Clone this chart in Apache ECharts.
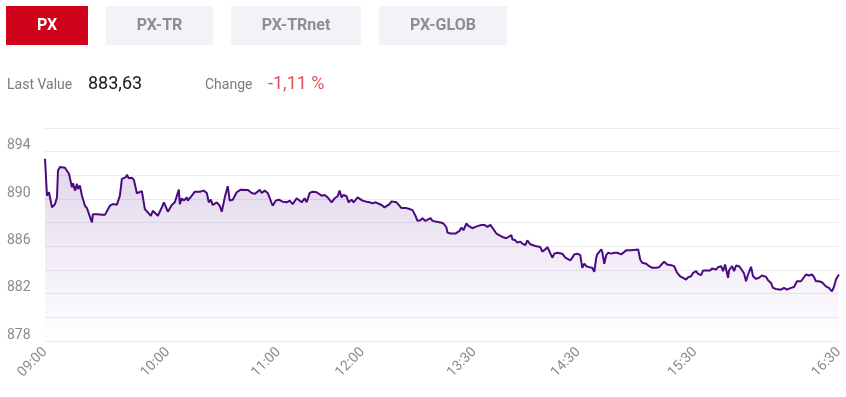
<!DOCTYPE html>
<html>
<head>
<meta charset="utf-8">
<script src="https://cdn.jsdelivr.net/npm/echarts@6/dist/echarts.min.js"></script>
<style>
html,body{margin:0;padding:0;background:#fff;}
#chart{width:846px;height:397px;}
</style>
</head>
<body>
<div id="chart"></div>
<script>
// Tabs and header
const tabs = ['PX', 'PX-TR', 'PX-TRnet', 'PX-GLOB'];
const lastValue = '883,63';
const changeText = '-1,11 %';

// X axis: sample number of the intraday series, and the time labels shown
const timeTicks = [0, 123, 234, 318, 430, 534, 651, 795];
const timeLabels = ['09:00', '10:00', '11:00', '12:00', '13:30', '14:30', '15:30', '16:30'];

// Y axis
const yMin = 878, yMax = 896, yStep = 2;
const yLabels = [878, 882, 886, 890, 894];

// Intraday PX index [sample number, value]
const pxMorning = [
  [0,893.40],[2,890.28],[4,890.57],[6,890.49],[7,889.29],[10,889.57],[12,890.14],[13,892.41],[15,892.70],[17,892.83],
  [20,892.64],[22,892.61],[24,892.13],[27,891.00],[28,891.34],[30,890.71],[32,891.28],[33,890.85],[35,891.13],[37,890.28],
  [40,889.43],[42,889.23],[44,889.23],[47,888.02],[48,888.72],[50,888.64],[53,888.72],[57,888.66],[60,888.66],[62,888.81],
  [65,889.43],[68,889.57],[72,889.52],[75,890.28],[77,891.70],[79,891.85],[81,891.85],[82,892.04],[84,891.76],[87,891.79],
  [89,891.62],[92,890.49],[94,890.57],[97,890.66],[100,889.15],[103,888.87],[106,888.58],[108,889.00],
  [110,889.00],[113,888.58],[117,889.29],[119,889.72],[122,889.15],[123,888.92],[127,889.49],[130,889.72],[132,889.66],[134,890.79],
  [135,889.57],[137,890.06],[139,889.86],[142,890.14],[143,889.86],[147,890.28],[150,890.62],[155,890.62],[159,890.71],[162,890.51],
  [164,889.72],[166,889.94],[168,889.49],[172,889.72],[175,889.43],[177,888.92],[180,890.14],[183,891.08],[185,889.86],[188,889.94],
  [192,890.57],[196,890.79],[203,890.77],[207,890.51],[210,890.43],[213,890.62],[215,890.79],[217,890.51],[220,890.71],[223,890.51],
  [225,890.43]
];
const pxMidday = [
  [228,889.43],[231,889.86],[234,889.94],[238,889.77],[242,889.72],[245,889.86],[248,889.57],[252,890.06],[254,889.94],[257,889.72],
  [260,890.06],[262,889.72],[265,890.51],[268,890.62],[272,890.57],[274,890.62],[277,890.28],[280,890.34],[283,890.14],[287,889.72],
  [290,890.06],[293,890.23],[295,890.71],[297,890.14],[299,890.34],[302,890.23],[304,889.72],[307,889.94],[309,889.72],[313,890.14],
  [318,889.86],[322,889.77],[325,889.72],[328,889.63],[331,889.72],[333,889.57],[337,889.49],[340,889.29],
  [345,889.57],[347,889.80],[352,889.72],[354,889.63],[357,889.23],[362,889.23],[365,889.15],[368,889.06],[371,888.58],[373,888.15],
  [376,888.21],[378,888.38],[381,888.15],[383,888.30],[386,888.38],[388,888.15],[391,888.10],[393,888.02],[396,888.02],[399,887.93],
  [402,887.59],[403,887.17],[406,887.08],[408,886.96],[411,887.08],[413,886.96],[415,887.30],[417,887.59],[419,887.36],[422,887.93],
  [424,887.73],[426,887.64],[428,887.53],[431,887.64],[433,887.59],[437,887.81],[440,887.81],[443,887.64],[446,887.81],[448,887.73],
  [452,887.08],[454,886.96]
];
const pxAfternoon = [
  [458,886.79],[462,886.68],[464,886.60],[467,886.96],[468,886.60],[471,886.51],[473,886.32],[476,886.40],[478,886.23],[481,886.11],
  [483,886.51],[486,886.17],[488,886.11],[491,886.03],[493,886.03],[496,885.94],[498,885.55],[501,885.74],[503,885.94],[505,885.60],
  [508,885.04],[510,885.38],[513,885.46],[518,885.38],[521,885.04],[523,885.04],[526,884.81],[528,885.04],[530,885.32],[533,885.38],
  [536,885.26],[538,884.19],[540,884.53],[542,884.32],[545,884.24],[548,884.19],[550,883.85],[552,885.04],[553,885.32],[557,885.74],
  [558,885.55],[560,884.53],[562,885.26],[564,885.46],[567,885.38],[570,885.46],
  [573,885.46],[577,885.32],[579,885.38],[582,885.66],[584,885.74],[587,885.66],[589,885.74],[594,885.74],[596,884.89],[598,884.61],
  [602,884.53],[605,884.32],[608,884.19],[612,884.19],[615,884.24],[618,884.53],[620,884.70],[623,884.47],[627,884.41],[630,884.32],
  [633,883.76],[636,883.47],[639,883.34],[642,883.19],[644,883.39],[647,883.47],[649,883.76],[652,883.90],[654,883.68],[657,883.56],
  [659,883.96],[663,883.96],[666,883.96],[668,884.13],[672,884.04],[674,884.24],[676,884.13],[677,884.32],[679,883.90],[681,884.47],
  [683,884.53],[684,883.34]
];
const pxClose = [
  [685,883.98],[688,884.32],[690,883.90],[692,884.38],[695,884.32],[698,883.98],[700,883.70],[702,883.05],[704,883.62],[707,884.27],
  [709,883.47],[712,883.25],[715,883.34],[718,883.53],[722,883.42],[724,883.13],[727,882.91],[729,882.49],[732,882.40],[734,882.49],
  [737,882.34],[740,882.49],[743,882.34],[747,882.49],[750,882.57],[753,883.05],[757,883.05],[759,883.19],[762,883.62],[765,883.53],
  [768,883.62],[770,883.42],[772,883.05],[775,883.05],[778,882.96],[780,883.05],[782,882.62],[785,882.49],[788,882.20],[790,882.57],
  [792,883.19],[795,883.63]
];
const pxData = pxMorning.concat(pxMidday, pxAfternoon, pxClose);

const FONT = 'Roboto, "Noto Sans", sans-serif';
const chart = echarts.init(document.getElementById('chart'), null, {renderer: 'canvas'});

// Header graphics (tabs, last value, change)
const tabBoxes = [[6, 82], [106, 107], [231, 130], [379, 128]];
const graphics = [];
tabs.forEach((t, i) => {
  const active = i === 0;
  graphics.push({
    type: 'rect', left: tabBoxes[i][0], top: 6,
    shape: {width: tabBoxes[i][1], height: 39},
    style: {fill: active ? '#d0021b' : '#f3f3f7'}
  });
  graphics.push({
    type: 'text', x: tabBoxes[i][0] + tabBoxes[i][1] / 2, y: 26,
    style: {text: t, fill: active ? '#ffffff' : '#8a8e98', font: 'bold 16px ' + FONT, align: 'center', verticalAlign: 'middle'}
  });
});
graphics.push({type: 'text', x: 7, y: 85, style: {text: 'Last Value', fill: '#777a80', font: '14px ' + FONT, verticalAlign: 'middle'}});
graphics.push({type: 'text', x: 88, y: 84, style: {text: lastValue, fill: '#1a1a1a', font: '18px ' + FONT, verticalAlign: 'middle'}});
graphics.push({type: 'text', x: 205, y: 85, style: {text: 'Change', fill: '#777a80', font: '14px ' + FONT, verticalAlign: 'middle'}});
graphics.push({type: 'text', x: 268, y: 84, style: {text: changeText, fill: '#e0505c', font: '18px ' + FONT, verticalAlign: 'middle'}});

chart.setOption({
  animation: false,
  textStyle: {fontFamily: FONT},
  graphic: graphics,
  grid: {left: 45, right: 6, top: 128, bottom: 56, containLabel: false},
  xAxis: {
    type: 'value', min: 0, max: 795,
    axisLine: {show: false}, axisTick: {show: false}, splitLine: {show: false},
    axisLabel: {
      customValues: timeTicks,
      formatter: v => timeLabels[timeTicks.indexOf(v)] || '',
      rotate: 45, color: '#8a8a8e', fontSize: 14, margin: 9,
      showMinLabel: true, showMaxLabel: true, hideOverlap: false
    }
  },
  yAxis: {
    type: 'value', min: yMin, max: yMax, interval: yStep,
    axisLine: {show: false}, axisTick: {show: false},
    splitLine: {show: true, lineStyle: {color: '#ebebf0', width: 1}},
    axisLabel: {
      formatter: v => yLabels.includes(v) ? String(v) : '',
      color: '#8a8a8e', fontSize: 14, lineHeight: 12, align: 'left', margin: 38,
      verticalAlign: 'bottom'
    }
  },
  series: [{
    type: 'line', data: pxData, showSymbol: false, smooth: false,
    lineStyle: {color: '#4b0a82', width: 2},
    itemStyle: {color: '#4b0a82'},
    areaStyle: {
      color: new echarts.graphic.LinearGradient(0, 0, 0, 1, [
        {offset: 0, color: 'rgba(85,25,140,0.25)'},
        {offset: 1, color: 'rgba(85,25,140,0)'}
      ])
    }
  }]
});
</script>
</body>
</html>
